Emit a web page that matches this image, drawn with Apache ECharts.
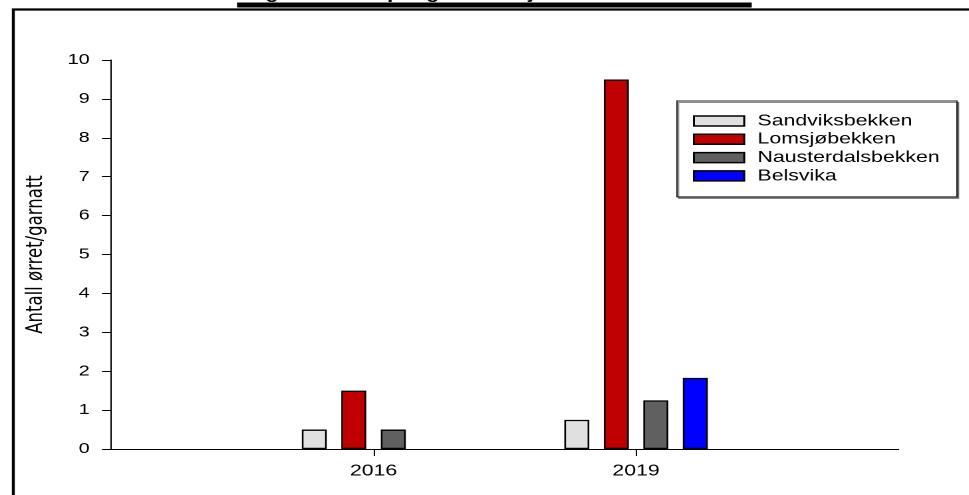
<!DOCTYPE html>
<html><head><meta charset="utf-8">
<script src="https://cdn.jsdelivr.net/npm/echarts@6/dist/echarts.min.js"></script>
<style>
html,body{margin:0;padding:0;background:#fff;overflow:hidden}
#wrap{width:969px;height:495px;overflow:hidden;position:relative;background:#fff}
#chart{width:728.57px;height:495px;transform:scaleX(1.33);transform-origin:0 0}
</style>
</head><body><div id="wrap"><div id="chart"></div></div>
<script>
// ---- data ----
const titleText = 'Fangst av ørret per garnatt i sjøen utenfor bekkene';
const yAxisName = 'Antall ørret/garnatt';
const years = [2016, 2019];
const xTickYears = [2016, 2019];
const seriesNames = ['Sandviksbekken', 'Lomsjøbekken', 'Nausterdalsbekken', 'Belsvika'];
const sandviksbekken = [0.5, 0.75];
const lomsjobekken = [1.5, 9.5];
const nausterdalsbekken = [0.5, 1.25];
const belsvika = [null, 1.83];
const seriesColors = ['#e0e0e0', '#c00000', '#606060', '#0000ff'];

const allValues = [sandviksbekken, lomsjobekken, nausterdalsbekken, belsvika];
const FONT = 'Liberation Sans, Arial, sans-serif';

const chart = echarts.init(document.getElementById('chart'), null, {devicePixelRatio: 2, renderer: 'canvas'});
const series = seriesNames.map((name, i) => ({
  name: name,
  type: 'bar',
  barWidth: 18.8,
  barGap: '58%',
  itemStyle: {color: seriesColors[i], borderColor: '#000', borderWidth: 1.3},
  emphasis: {disabled: true},
  data: years.map((y, k) => allValues[i][k] == null ? null : [y, allValues[i][k]]).filter(d => d)
}));

chart.setOption({
  animation: false,
  backgroundColor: '#fff',
  title: {
    text: titleText, left: 'center', top: -19,
    textStyle: {fontFamily: FONT, fontSize: 16, fontWeight: 'bold', color: '#000', lineHeight: 16}
  },
  graphic: [
    {type: 'rect', left: 7.5, top: 7, shape: {x: 0, y: 0, width: 1000, height: 800},
     style: {fill: 'none', stroke: '#000', lineWidth: 2.2}, silent: true},
    {type: 'rect', left: 178.2, top: 2.5, shape: {x: 0, y: 0, width: 387, height: 5},
     style: {fill: '#000'}, silent: true}
  ],
  grid: {left: 83.5, right: 53.4, top: 60, bottom: 46, containLabel: false},
  legend: {
    data: seriesNames,
    orient: 'vertical',
    left: 509, top: 101,
    padding: [12, 13, 13, 12],
    itemWidth: 37.8, itemHeight: 10, itemGap: 2.3,
    icon: 'rect',
    itemStyle: {borderColor: '#000', borderWidth: 1.5},
    backgroundColor: '#fff',
    borderColor: '#222', borderWidth: 1,
    shadowColor: 'rgba(0,0,0,0.45)', shadowOffsetX: 1.2, shadowOffsetY: 1.5, shadowBlur: 0,
    selectedMode: false,
    textStyle: {fontFamily: FONT, fontSize: 16, color: '#000', lineHeight: 16, padding: [0, 0, 0, 5]}
  },
  xAxis: {
    type: 'value', min: 2013, max: 2022, interval: 3,
    splitLine: {show: false},
    axisLine: {show: true, lineStyle: {color: '#000', width: 1}},
    axisTick: {show: true, customValues: xTickYears, length: 7, lineStyle: {color: '#000', width: 1}},
    axisLabel: {customValues: xTickYears, fontFamily: FONT, fontSize: 16, color: '#000', margin: 14,
      formatter: v => String(v)}
  },
  yAxis: {
    type: 'value', min: 0, max: 10, interval: 1,
    name: yAxisName, nameLocation: 'middle', nameGap: 48,
    nameTextStyle: {fontFamily: 'DejaVu Sans, sans-serif', fontSize: 16.5, color: '#000'},
    splitLine: {show: false},
    axisLine: {show: true, lineStyle: {color: '#000', width: 1}},
    axisTick: {show: true, inside: false, length: 6.8, lineStyle: {color: '#000', width: 1}},
    axisLabel: {fontFamily: FONT, fontSize: 15, color: '#000', margin: 16}
  },
  series: series
});
</script>
</body></html>
